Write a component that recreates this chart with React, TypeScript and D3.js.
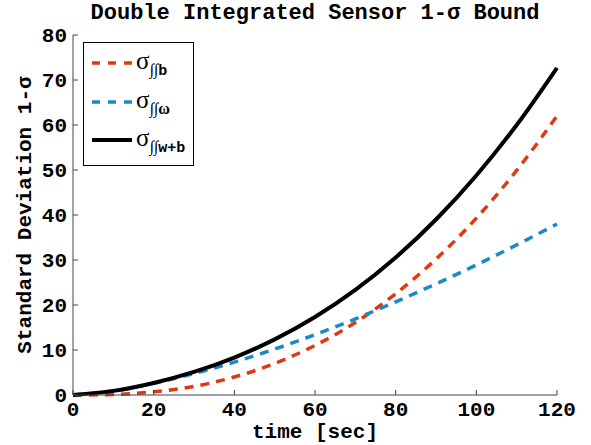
import React from "react";
import * as d3 from "d3";

const time = [0, 10, 20, 30, 40, 50, 60, 70, 80, 90, 100, 110, 120];
const sigmaB = [0, 0.1, 0.7, 1.9, 4.0, 7.0, 11.0, 16.1, 22.5, 30.2, 39.3, 49.9, 62.0];
const sigmaW = [0, 0.9, 2.6, 4.75, 7.3, 10.2, 13.4, 16.9, 20.7, 24.7, 28.9, 33.35, 38.0];
const sigmaWB = [0, 0.92, 2.68, 5.13, 8.32, 12.36, 17.34, 23.37, 30.56, 39.0, 48.79, 60.0, 72.72];
const xTicks = [0, 20, 40, 60, 80, 100, 120];
const yTicks = [0, 10, 20, 30, 40, 50, 60, 70, 80];

const W = 591, H = 445;
const L = 73, R = 557, T = 35, B = 395;
const FONT = "'Liberation Mono', 'DejaVu Sans Mono', monospace";
const RED = "#de3a12";
const BLUE = "#1e88cc";

export default function App() {
  const x = d3.scaleLinear().domain([0, 120]).range([L, R]);
  const y = d3.scaleLinear().domain([0, 80]).range([B, T]);
  const line = (vals: number[]) =>
    d3
      .line<number>()
      .x((_, i) => x(time[i]))
      .y((d) => y(d))
      .curve(d3.curveMonotoneX)(vals) || "";
  const axisColor = "#444";
  return (
    <svg width={W} height={H} style={{ position: "absolute", left: 0, top: 0, background: "#fff" }}>
      <text x={315} y={19} textAnchor="middle" fontFamily={FONT} fontWeight="bold" fontSize={22}>
        Double Integrated Sensor 1-σ Bound
      </text>
      {/* curves */}
      <path d={line(sigmaB)} fill="none" stroke={RED} strokeWidth={3.5} strokeDasharray="9,7" />
      <path d={line(sigmaW)} fill="none" stroke={BLUE} strokeWidth={3.5} strokeDasharray="9,7" />
      <path d={line(sigmaWB)} fill="none" stroke="#000" strokeWidth={4} />
      {/* axes */}
      <line x1={L} y1={T} x2={L} y2={B} stroke={axisColor} strokeWidth={1} />
      <line x1={L} y1={B} x2={R} y2={B} stroke={axisColor} strokeWidth={1} />
      {yTicks.map((t) => (
        <g key={"y" + t}>
          <line x1={L} x2={L + 5} y1={y(t)} y2={y(t)} stroke={axisColor} />
          <text x={L - 6} y={y(t)} dy="0.35em" textAnchor="end" fontFamily={FONT} fontWeight="bold" fontSize={21}>
            {t}
          </text>
        </g>
      ))}
      {xTicks.map((t) => (
        <g key={"x" + t}>
          <line x1={x(t)} x2={x(t)} y1={B} y2={B - 5} stroke={axisColor} />
          <text x={x(t)} y={416} textAnchor="middle" fontFamily={FONT} fontWeight="bold" fontSize={21}>
            {t}
          </text>
        </g>
      ))}
      <text x={315} y={438} textAnchor="middle" fontFamily={FONT} fontWeight="bold" fontSize={21}>
        time [sec]
      </text>
      <text
        transform={`translate(31,${(T + B) / 2}) rotate(-90)`}
        textAnchor="middle"
        fontFamily={FONT}
        fontWeight="bold"
        fontSize={21}
      >
        Standard Deviation 1-σ
      </text>
      {/* legend */}
      <rect x={83.5} y={42.5} width={110} height={123} fill="#fff" stroke="#000" strokeWidth={1} />
      <line x1={92} x2={132} y1={63} y2={63} stroke={RED} strokeWidth={3.5} strokeDasharray="8,8" />
      <line x1={92} x2={132} y1={102} y2={102} stroke={BLUE} strokeWidth={3.5} strokeDasharray="8,8" />
      <line x1={92} x2={132} y1={140} y2={140} stroke="#000" strokeWidth={4} />
      {[
        { yy: 63, sub: "b" },
        { yy: 102, sub: "ω" },
        { yy: 140, sub: "w+b" },
      ].map((e) => (
        <text key={e.sub} x={136} y={e.yy + 6} fontSize={25} fontFamily="'Liberation Serif', serif">
          σ
          <tspan fontSize={16} dy={6}>∫∫</tspan>
          <tspan
            fontSize={e.sub === "ω" ? 16 : 15}
            fontWeight="bold"
            fontFamily={e.sub === "ω" ? "'Liberation Serif', serif" : FONT}
          >
            {e.sub}
          </tspan>
        </text>
      ))}
    </svg>
  );
}
